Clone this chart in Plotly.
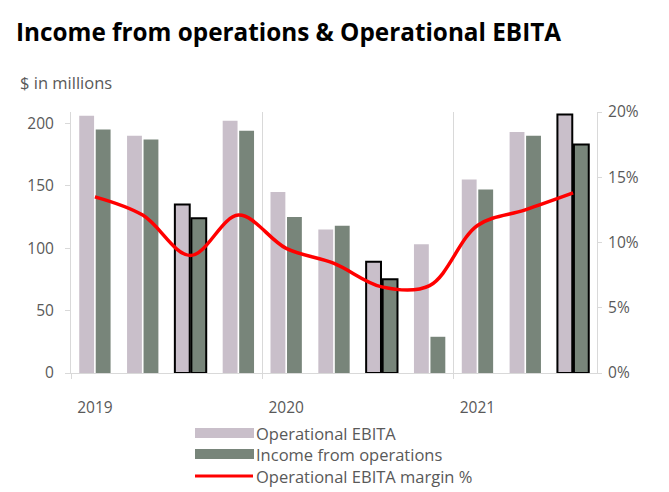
import plotly.graph_objects as go

quarters = ["Q1 2019", "Q2 2019", "Q3 2019", "Q4 2019",
            "Q1 2020", "Q2 2020", "Q3 2020", "Q4 2020",
            "Q1 2021", "Q2 2021", "Q3 2021"]
op_ebita = [206, 190, 135, 202, 145, 115, 89, 103, 155, 193, 207]
income_ops = [195, 187, 124, 194, 125, 118, 75, 29, 147, 190, 183]
ebita_margin = [0.135, 0.121, 0.090, 0.121, 0.0955, 0.084, 0.066, 0.067, 0.113, 0.125, 0.138]
highlight = [False, False, True, False, False, False, True, False, False, False, True]
year_labels = ["2019", "2020", "2021"]
year_start_idx = [0, 4, 8]
year_bounds = [-0.5, 3.5, 7.5]
series_names = ["Operational EBITA", "Income from operations", "Operational EBITA margin %"]

x = list(range(len(quarters)))
outline_w = [2 if h else 0 for h in highlight]

LIGHT = "#c9bfca"
DARK = "#78857a"
RED = "#ff0000"
GRID = "#d9d9d9"
TXT = "#595959"
FONT = "Open Sans"

# plot area in pixels (for paper-coordinate helpers)
W, H = 669, 492
L, R, T, B = 71, 72, 112, 119
PW, PH = W - L - R, H - T - B


def px_x(px):
    return (px - L) / PW


def px_y(py):
    return (H - B - py) / PH


fig = go.Figure()
fig.add_trace(go.Bar(
    x=x, y=op_ebita, name=series_names[0],
    marker=dict(color=LIGHT, line=dict(color="black", width=outline_w)),
    hovertext=quarters, showlegend=False,
))
fig.add_trace(go.Bar(
    x=x, y=income_ops, name=series_names[1],
    marker=dict(color=DARK, line=dict(color="black", width=outline_w)),
    hovertext=quarters, showlegend=False,
))
fig.add_trace(go.Scatter(
    x=x, y=ebita_margin, name=series_names[2], yaxis="y2",
    mode="lines", line=dict(color=RED, width=3.5, shape="spline", smoothing=1.0),
    hovertext=quarters, showlegend=False,
))

# custom legend (wide swatches like the original)
legend_rows = [433, 454, 476]
shapes = []
annotations = []
for i, name in enumerate(series_names):
    yc = legend_rows[i]
    if i < 2:
        shapes.append(dict(type="rect", xref="paper", yref="paper",
                           x0=px_x(195), x1=px_x(254), y0=px_y(yc - 5), y1=px_y(yc + 5),
                           fillcolor=[LIGHT, DARK][i], line=dict(width=0)))
    else:
        shapes.append(dict(type="line", xref="paper", yref="paper",
                           x0=px_x(195), x1=px_x(253), y0=px_y(yc), y1=px_y(yc),
                           line=dict(color=RED, width=3)))
    annotations.append(dict(text=name, xref="paper", yref="paper",
                            x=px_x(254), y=px_y(yc), xanchor="left", yanchor="middle",
                            showarrow=False, font=dict(family=FONT, size=16.5, color=TXT)))

annotations.append(dict(text="$ in millions", xref="paper", yref="paper",
                        x=px_x(18), y=px_y(83), xanchor="left", yanchor="middle",
                        showarrow=False, font=dict(family=FONT, size=16.5, color=TXT)))

fig.update_layout(
    width=W, height=H,
    margin=dict(l=L, r=R, t=T, b=B, autoexpand=False),
    plot_bgcolor="white", paper_bgcolor="white",
    font=dict(family=FONT, color=TXT, size=15),
    barmode="group", bargap=0.31, bargroupgap=0.1,
    showlegend=False,
    title=dict(text="<b>Income from operations & Operational EBITA</b>",
               x=16/W, xanchor="left", y=1 - 32/H, yanchor="middle",
               font=dict(family=FONT, size=24.3, color="black")),
    xaxis=dict(
        range=[-0.5, 10.5], tickmode="array", tickvals=year_start_idx, ticktext=year_labels,
        ticks="", showgrid=False, zeroline=False,
        showline=True, linecolor=GRID, linewidth=1,
        ticklabelstandoff=20,
        tickfont=dict(family=FONT, size=15.5, color=TXT),
        minor=dict(tickmode="array", tickvals=year_bounds, ticks="outside", ticklen=5,
                   tickcolor=GRID, showgrid=True, gridcolor=GRID, gridwidth=1),
    ),
    yaxis=dict(
        range=[0, 209], tickmode="array", tickvals=[0, 50, 100, 150, 200],
        ticks="outside", ticklen=5, tickcolor=GRID,
        showline=True, linecolor=GRID, linewidth=1,
        showgrid=False, zeroline=False, ticklabelstandoff=8,
        tickfont=dict(family=FONT, size=15.5, color=TXT),
    ),
    yaxis2=dict(
        range=[0, 0.2], overlaying="y", side="right", tickmode="array",
        tickvals=[0, 0.05, 0.10, 0.15, 0.20], tickformat=".0%",
        ticks="outside", ticklen=4, tickcolor=GRID,
        showline=True, linecolor=GRID, linewidth=1,
        showgrid=False, zeroline=False, ticklabelstandoff=3,
        tickfont=dict(family=FONT, size=15.5, color=TXT),
    ),
    shapes=shapes,
    annotations=annotations,
)

fig.write_html("out.html", config={"displayModeBar": False},
               post_script="document.body.style.margin='0';")
